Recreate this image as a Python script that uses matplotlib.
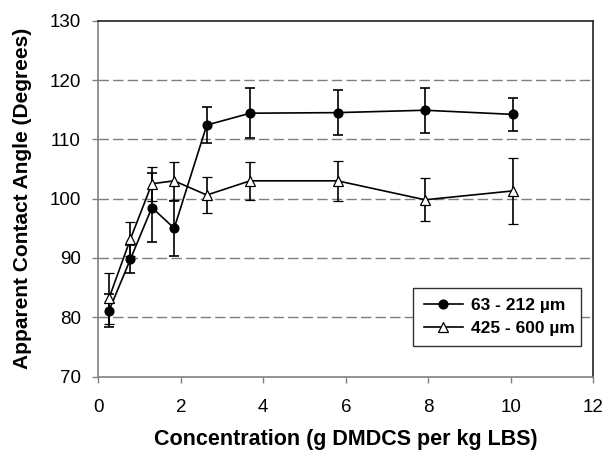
import matplotlib
matplotlib.use("Agg")
import matplotlib.pyplot as plt
from matplotlib.lines import Line2D

plt.rcParams['font.family'] = ['Liberation Sans', 'DejaVu Sans']

conc = [0.26, 0.78, 1.30, 1.84, 2.63, 3.68, 5.80, 7.92, 10.05]
small_angle = [81.1, 89.8, 98.5, 95.0, 112.4, 114.4, 114.5, 114.9, 114.2]
small_err = [2.8, 2.3, 5.8, 4.6, 3.0, 4.2, 3.8, 3.8, 2.8]
large_angle = [83.2, 93.2, 102.5, 103.0, 100.6, 103.0, 103.0, 99.8, 101.3]
large_err = [4.3, 2.9, 2.9, 3.2, 3.1, 3.2, 3.4, 3.6, 5.5]
labels = ['63 - 212 \u00b5m', '425 - 600 \u00b5m']

fig = plt.figure(figsize=(6.04, 4.59), dpi=100)
ax = fig.add_axes([0.1627, 0.1797, 0.8196, 0.7752])

ax.set_xlim(0, 12)
ax.set_ylim(70, 130)
ax.set_xticks(range(0, 13, 2))
ax.set_yticks(range(70, 131, 10))

for y in range(80, 130, 10):
    ax.axhline(y, color='#7f7f7f', lw=1.0, dashes=(7.5, 3), zorder=1)

circ_style = dict(marker='o', markersize=6.3, markerfacecolor='black',
                  markeredgecolor='black')
tri_style = dict(marker='^', markersize=7.5, markerfacecolor='white',
                 markeredgecolor='black', markeredgewidth=0.9)

ax.errorbar(conc, small_angle, yerr=small_err, color='black', lw=1.2,
            elinewidth=1.2, capsize=3.6, capthick=1.2, zorder=3, **circ_style)
ax.errorbar(conc, large_angle, yerr=large_err, color='black', lw=1.2,
            elinewidth=1.2, capsize=3.6, capthick=1.2, zorder=4, **tri_style)

for s in ['left', 'bottom']:
    ax.spines[s].set_color('#808080')
for s in ['top', 'right']:
    ax.spines[s].set_color('#222222')
for s in ax.spines.values():
    s.set_linewidth(1.2)

ax.tick_params(axis='both', direction='out', length=4.5, width=1.0,
               color='#808080', labelsize=13.5)
ax.tick_params(axis='y', pad=8)
ax.tick_params(axis='x', pad=12)

ax.set_xlabel('Concentration (g DMDCS per kg LBS)', fontsize=15.5, fontweight='bold')
ax.set_ylabel('Apparent Contact Angle (Degrees)', fontsize=15, fontweight='bold')
ax.xaxis.set_label_coords(0.5, -0.178)
ax.xaxis.label.set_va('center')
ax.yaxis.set_label_coords(-0.154, 0.5)
ax.yaxis.label.set_va('center')

handles = [Line2D([], [], color='black', lw=1.2, **circ_style),
           Line2D([], [], color='black', lw=1.2, **tri_style)]
leg = ax.legend(handles, labels, loc='center',
                bbox_to_anchor=(0.636, 0.0773, 0.339, 0.18),
                mode='expand', frameon=True, fancybox=False, framealpha=1,
                edgecolor='#333333', prop={'weight': 'bold', 'size': 12.5},
                handlelength=2.25, handletextpad=0.5, labelspacing=0.45,
                borderpad=0.6, borderaxespad=0)
leg.get_frame().set_linewidth(1.0)

fig.savefig('out.png', dpi=100)
